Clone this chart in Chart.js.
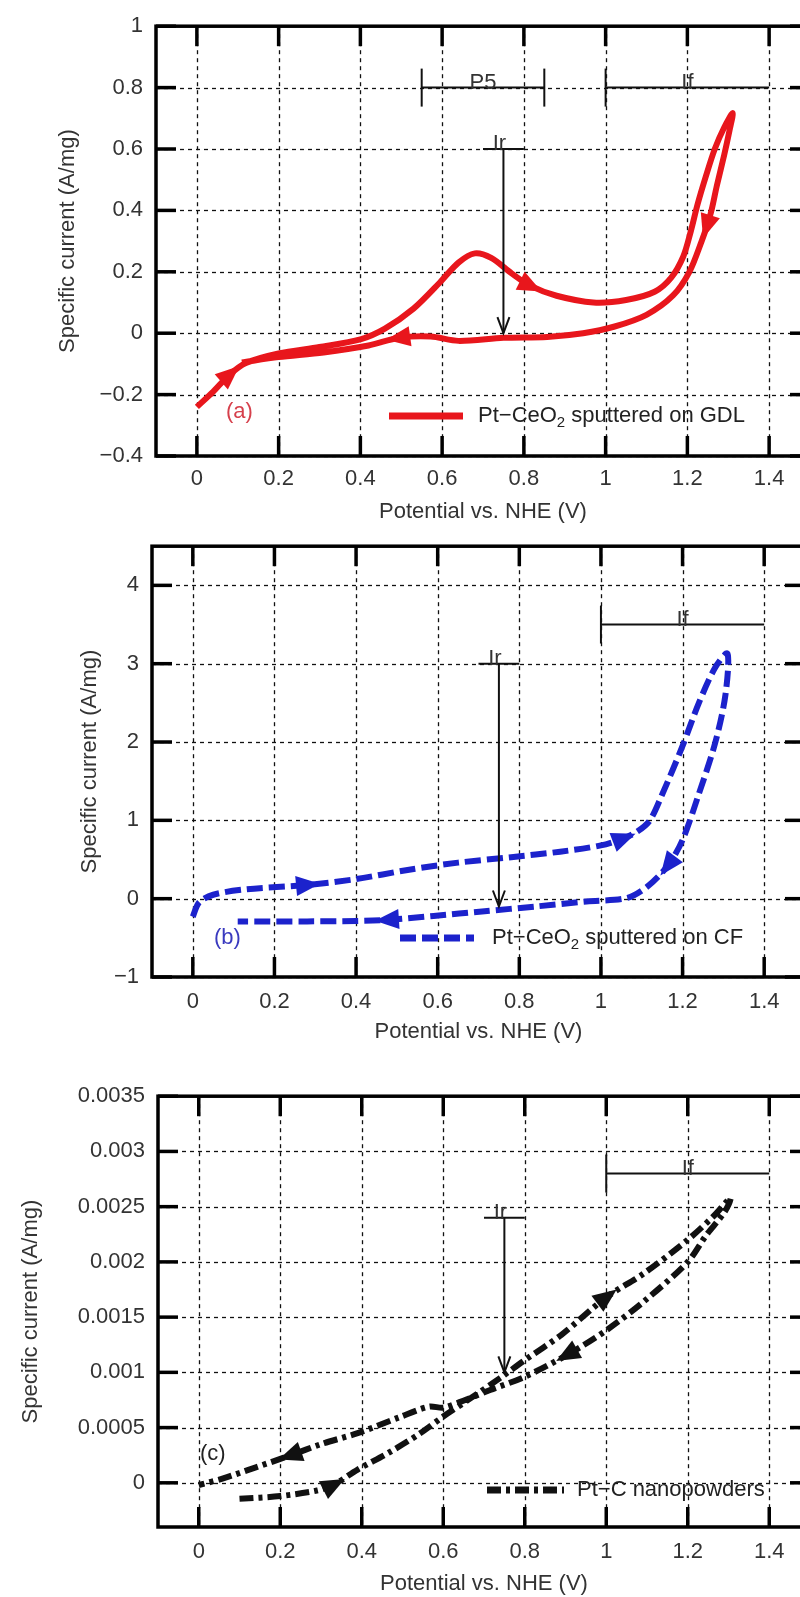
<!DOCTYPE html>
<html>
<head>
<meta charset="utf-8">
<script src="https://cdn.jsdelivr.net/npm/chart.js@4.4.1/dist/chart.umd.min.js"></script>
<style>
html, body { margin: 0; padding: 0; background: #fff; width: 800px; height: 1597px; overflow: hidden; position: relative; }
canvas { position: absolute; left: 0; }
</style>
</head>
<body>
<canvas id="cvA" width="830" height="525" style="top:0px"></canvas>
<canvas id="cvB" width="830" height="525" style="top:520px"></canvas>
<canvas id="cvC" width="830" height="527" style="top:1070px"></canvas>
<script>
// shared x axis
const xTicks = [0, 0.2, 0.4, 0.6, 0.8, 1, 1.2, 1.4];

// (a) Pt-CeO2 sputtered on GDL
const labelA = 'Pt\u2212CeO\u2082 sputtered on GDL';
const xA = [0, 0.04, 0.08, 0.12, 0.2, 0.3, 0.4, 0.46, 0.53, 0.595, 0.64, 0.68, 0.72, 0.77, 0.815, 0.88, 0.97, 1.05, 1.12, 1.16, 1.19, 1.208, 1.225, 1.245, 1.267, 1.29, 1.311,
            1.303, 1.29, 1.272, 1.259, 1.248, 1.235, 1.205, 1.165, 1.1, 1.02, 0.945, 0.857, 0.75, 0.64, 0.572, 0.495, 0.42, 0.31, 0.2, 0.11];
const yA = [-0.24, -0.19, -0.135, -0.097, -0.066, -0.045, -0.02, 0.015, 0.08, 0.166, 0.23, 0.26, 0.245, 0.195, 0.155, 0.122, 0.1, 0.108, 0.135, 0.18, 0.25, 0.33, 0.42, 0.51, 0.6, 0.67, 0.717,
            0.66, 0.58, 0.48, 0.4, 0.35, 0.3, 0.2, 0.123, 0.06, 0.021, 0.0, -0.012, -0.015, -0.025, -0.011, -0.015, -0.04, -0.063, -0.078, -0.095];
const arrowsA = [2, 14, 31, 42];
const yTicksA = [-0.4, -0.2, 0, 0.2, 0.4, 0.6, 0.8, 1];
const p5A = [0.55, 0.85, 0.8];
const ifA = [1.0, 1.4, 0.8];
const irA = [0.7, 0.8, 0.6, 0.0];

// (b) Pt-CeO2 sputtered on CF
const labelB = 'Pt\u2212CeO\u2082 sputtered on CF';
const xB = [0, 0.015, 0.05, 0.13, 0.28, 0.4, 0.53, 0.65, 0.78, 0.9, 1.0, 1.055, 1.09, 1.12, 1.15, 1.2, 1.24, 1.28, 1.31,
            1.305, 1.28, 1.24, 1.2, 1.165, 1.115, 1.065, 0.965, 0.84, 0.715, 0.59, 0.478, 0.4, 0.28, 0.11];
const yB = [-0.23, -0.05, 0.05, 0.12, 0.175, 0.25, 0.37, 0.46, 0.53, 0.6, 0.68, 0.77, 0.86, 1.0, 1.33, 1.95, 2.5, 2.95, 3.13,
            2.6, 1.99, 1.34, 0.75, 0.43, 0.16, 0.01, -0.035, -0.1, -0.16, -0.22, -0.27, -0.285, -0.29, -0.29];
const arrowsB = [4, 11, 23, 30];
const yTicksB = [-1, 0, 1, 2, 3, 4];
const ifB = [1.0, 1.4, 3.5];
const irB = [0.7, 0.8, 3.0, -0.1];

// (c) Pt-C nanopowders
const labelC = 'Pt\u2212C nanopowders';
const xC = [0.1, 0.2, 0.29, 0.33, 0.39, 0.465, 0.54, 0.6, 0.665, 0.74, 0.8, 0.89, 1.0, 1.09, 1.2, 1.265, 1.305,
            1.29, 1.245, 1.2, 1.095, 1.0, 0.905, 0.8, 0.715, 0.64, 0.6, 0.565, 0.49, 0.39, 0.3, 0.226, 0.14, 0.06, 0];
const yC = [-0.000145, -0.00012, -0.00007, -0.00002, 0.00012, 0.00027, 0.00044, 0.0006, 0.00076, 0.00095, 0.00111, 0.00134, 0.00168, 0.00189, 0.0022, 0.00242, 0.00258,
            0.00245, 0.00224, 0.002, 0.00165, 0.00138, 0.00116, 0.00096, 0.00084, 0.00073, 0.00068, 0.00069, 0.00059, 0.00045, 0.00035, 0.00025, 0.00014, 0.00004, -0.00002];
const arrowsC = [3, 12, 22, 31];
const yTicksC = [0, 0.0005, 0.001, 0.0015, 0.002, 0.0025, 0.003, 0.0035];
const ifC = [1.0, 1.4, 0.0028];
const irC = [0.7, 0.8, 0.0024, 0.001];

const FONT = '"Liberation Sans", Arial, Helvetica, sans-serif';
Chart.defaults.font.family = FONT;
Chart.defaults.font.size = 22;
Chart.defaults.color = '#333';

function fmt(v) {
    return String(+Number(v).toFixed(4)).replace('-', '\u2212');
}

function pts(xs, ys) {
    return xs.map(function(x, i) { return {x: x, y: ys[i]}; });
}

function line(ctx, x1, y1, x2, y2) {
    ctx.beginPath();
    ctx.moveTo(x1, y1);
    ctx.lineTo(x2, y2);
    ctx.stroke();
}

// label with the "₂" drawn as a lowered small digit
function drawLabel(ctx, text, x, y) {
    const parts = text.split('\u2082');
    parts.forEach(function(t, i) {
        ctx.font = '22px ' + FONT;
        ctx.fillText(t, x, y);
        x += ctx.measureText(t).width;
        if(i < parts.length - 1) {
            ctx.font = '15px ' + FONT;
            ctx.fillText('2', x, y + 7);
            x += ctx.measureText('2').width;
        }
    });
}

function cvPlugin(p) {
    return {
        id: 'cv',
        beforeDatasetsDraw(chart) {
            const {ctx, chartArea: a, scales: {x, y}} = chart;
            ctx.save();
            ctx.strokeStyle = '#111';
            ctx.lineWidth = 1.3;
            ctx.setLineDash([4, 4]);
            xTicks.forEach(function(v) {
                const px = Math.round(x.getPixelForValue(v)) + 0.5;
                line(ctx, px, a.top, px, a.bottom);
            });
            p.yTicks.forEach(function(v) {
                const py = Math.round(y.getPixelForValue(v)) + 0.5;
                line(ctx, a.left, py, a.right, py);
            });
            ctx.restore();
        },
        afterDatasetsDraw(chart) {
            const {ctx, scales: {x, y}} = chart;
            const d = chart.data.datasets[0].data;
            ctx.save();
            ctx.fillStyle = p.color;
            p.arrows.forEach(function(i) {
                const x0 = x.getPixelForValue(d[i - 1].x), y0 = y.getPixelForValue(d[i - 1].y);
                const x1 = x.getPixelForValue(d[i + 1].x), y1 = y.getPixelForValue(d[i + 1].y);
                const cx = x.getPixelForValue(d[i].x), cy = y.getPixelForValue(d[i].y);
                let dx = x1 - x0, dy = y1 - y0;
                const len = Math.hypot(dx, dy);
                dx /= len; dy /= len;
                ctx.beginPath();
                ctx.moveTo(cx + dx * 13, cy + dy * 13);
                ctx.lineTo(cx - dx * 11 - dy * 10, cy - dy * 11 + dx * 10);
                ctx.lineTo(cx - dx * 11 + dy * 10, cy - dy * 11 - dx * 10);
                ctx.closePath();
                ctx.fill();
            });
            ctx.restore();
        },
        afterDraw(chart) {
            const {ctx, chartArea: a, scales: {x, y}} = chart;
            ctx.save();
            // frame + inward ticks
            ctx.strokeStyle = '#000';
            ctx.lineWidth = 3.5;
            ctx.strokeRect(a.left, a.top, a.right - a.left, a.bottom - a.top);
            xTicks.forEach(function(v) {
                const px = x.getPixelForValue(v);
                line(ctx, px, a.bottom, px, a.bottom - 20);
                line(ctx, px, a.top, px, a.top + 20);
            });
            p.yTicks.forEach(function(v) {
                const py = y.getPixelForValue(v);
                line(ctx, a.left, py, a.left + 20, py);
                line(ctx, a.right, py, a.right - 20, py);
            });

            // annotations
            ctx.strokeStyle = '#111';
            ctx.fillStyle = '#333';
            ctx.lineWidth = 2;
            ctx.font = '22px ' + FONT;
            ctx.textAlign = 'center';
            ctx.textBaseline = 'alphabetic';
            if(p.p5) {
                const l = x.getPixelForValue(p.p5[0]), r = x.getPixelForValue(p.p5[1]), py = y.getPixelForValue(p.p5[2]);
                line(ctx, l, py, r, py);
                line(ctx, l, py - 19, l, py + 19);
                line(ctx, r, py - 19, r, py + 19);
                ctx.fillText('P5', (l + r) / 2, py + 1);
            }
            {
                const l = x.getPixelForValue(p.iF[0]), r = x.getPixelForValue(p.iF[1]), py = y.getPixelForValue(p.iF[2]);
                line(ctx, l, py, r, py);
                line(ctx, l, py - 19, l, py + 19);
                ctx.fillText('If', x.getPixelForValue(1.2), py + 1);
            }
            {
                const l = x.getPixelForValue(p.ir[0]), r = x.getPixelForValue(p.ir[1]), py = y.getPixelForValue(p.ir[2]);
                const ax = (l + r) / 2, tip = y.getPixelForValue(p.ir[3]);
                line(ctx, l, py, r, py);
                line(ctx, ax, py, ax, tip);
                ctx.beginPath();
                ctx.moveTo(ax - 6, tip - 16);
                ctx.lineTo(ax, tip);
                ctx.lineTo(ax + 6, tip - 16);
                ctx.stroke();
                ctx.fillText('Ir', ax - 4, py + 1);
            }

            // key inside the frame
            ctx.strokeStyle = p.color;
            ctx.lineWidth = 7;
            ctx.setLineDash(p.dash || []);
            line(ctx, p.key[0], p.key[2], p.key[1], p.key[2]);
            ctx.setLineDash([]);
            ctx.fillStyle = '#222';
            ctx.textAlign = 'left';
            ctx.textBaseline = 'middle';
            drawLabel(ctx, chart.data.datasets[0].label, p.key[3], p.key[2]);

            // panel tag
            ctx.font = '22px ' + FONT;
            ctx.fillStyle = p.tagColor;
            ctx.fillText(p.tag, p.tagPos[0], p.tagPos[1]);
            ctx.restore();
        }
    };
}

function makePanel(id, p) {
    return new Chart(document.getElementById(id), {
        type: 'scatter',
        data: {
            datasets: [{
                label: p.label,
                data: pts(p.xs, p.ys),
                showLine: true,
                borderColor: p.color,
                backgroundColor: p.color,
                borderWidth: 6,
                borderDash: p.dash || [],
                tension: 0.3,
                pointRadius: 0,
                fill: false
            }]
        },
        options: {
            responsive: false,
            animation: false,
            events: [],
            layout: { padding: p.pad },
            plugins: {
                legend: { display: false },
                tooltip: { enabled: false }
            },
            scales: {
                x: {
                    type: 'linear',
                    min: -0.1,
                    max: 1.5,
                    afterBuildTicks: function(s) { s.ticks = xTicks.map(function(v) { return {value: v}; }); },
                    afterFit: function(s) { s.height = p.xh; },
                    grid: { display: false, drawTicks: false },
                    border: { display: false },
                    ticks: { padding: p.xpad, maxRotation: 0, autoSkip: false, callback: function(v) { return fmt(v); } },
                    title: { display: true, text: 'Potential vs. NHE (V)', padding: { top: 0, bottom: 0 } }
                },
                y: {
                    type: 'linear',
                    min: p.ymin,
                    max: p.ymax,
                    afterBuildTicks: function(s) { s.ticks = p.yTicks.map(function(v) { return {value: v}; }); },
                    afterFit: function(s) { s.width = p.yw; },
                    grid: { display: false, drawTicks: false },
                    border: { display: false },
                    ticks: { padding: 13, autoSkip: false, callback: function(v) { return fmt(v); } },
                    title: { display: true, text: 'Specific current (A/mg)', padding: { top: p.ytitle, bottom: 0 } }
                }
            }
        },
        plugins: [cvPlugin(p)]
    });
}

makePanel('cvA', {
    label: labelA, xs: xA, ys: yA, arrows: arrowsA, yTicks: yTicksA,
    color: '#e8161c', ymin: -0.4, ymax: 1,
    pad: { top: 22, right: 20, left: 0, bottom: 0 }, yw: 156, xh: 69, xpad: 10, ytitle: 55,
    p5: p5A, iF: ifA, ir: irA,
    key: [389, 463, 416, 478], tag: '(a)', tagColor: '#d6404c', tagPos: [226, 412]
});

makePanel('cvB', {
    label: labelB, xs: xB, ys: yB, arrows: arrowsB, yTicks: yTicksB,
    color: '#1c22cc', dash: [16, 6], ymin: -1, ymax: 4.5,
    pad: { top: 23, right: 25, left: 0, bottom: 0 }, yw: 152, xh: 68, xpad: 12, ytitle: 77,
    iF: ifB, ir: irB,
    key: [400, 474, 418, 492], tag: '(b)', tagColor: '#3a3abf', tagPos: [214, 418]
});

makePanel('cvC', {
    label: labelC, xs: xC, ys: yC, arrows: arrowsC, yTicks: yTicksC,
    color: '#111', dash: [14, 5, 4, 5], ymin: -0.0004, ymax: 0.0035,
    pad: { top: 24, right: 20, left: 0, bottom: 0 }, yw: 158, xh: 70, xpad: 12, ytitle: 18,
    iF: ifC, ir: irC,
    key: [487, 564, 420, 577], tag: '(c)', tagColor: '#222', tagPos: [200, 384]
});
</script>
</body>
</html>
